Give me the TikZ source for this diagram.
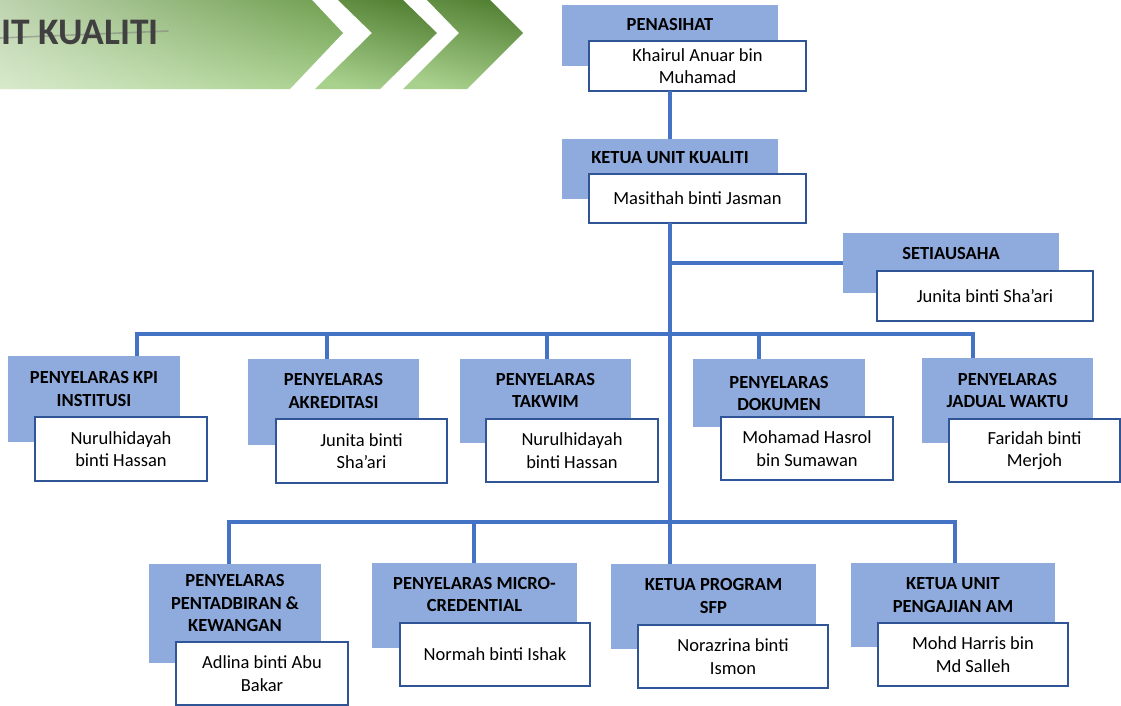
\documentclass[tikz,border=0pt]{standalone}
\usepackage{fontspec}
\setmainfont{Carlito}
\usetikzlibrary{fadings}
\definecolor{headblue}{HTML}{8FAADC}
\definecolor{edgeblue}{HTML}{2F5597}
\definecolor{linkblue}{HTML}{4472C4}
\definecolor{leafdark}{HTML}{548235}
\definecolor{leafmid}{HTML}{6E9E4E}
\definecolor{leaflight}{HTML}{A9D18E}
\definecolor{titlegray}{HTML}{404040}
\tikzfading[name=paleleft, left color=transparent!45, right color=transparent!100]

\begin{document}
\begin{tikzpicture}[x=1pt,y=-1pt,
  head/.style={rectangle, fill=headblue, inner sep=0pt, outer sep=0pt},
  headtext/.style={font=\fontsize{18.5}{22.5}\selectfont\bfseries, align=center, inner sep=0pt, text=black},
  namebox/.style={rectangle, fill=white, draw=edgeblue, line width=2.6pt, inner sep=0pt, outer sep=0pt,
    align=center, font=\fontsize{18.5}{22.5}\selectfont},
  link/.style={draw=linkblue, line width=4pt, line join=miter},
  chevron/.style={top color=leafdark, bottom color=leaflight, shading angle=-15},
]
\useasboundingbox (0,0) rectangle (1121,705);

% ---- title banner with chevrons ----
\shade[top color=leafmid, bottom color=leaflight]
  (0,0) -- (312,0) -- (343,33) -- (290,89) -- (0,89) -- cycle;
\fill[white, path fading=paleleft]
  (0,0) -- (312,0) -- (343,33) -- (290,89) -- (0,89) -- cycle;
\shade[chevron]
  (338,0) -- (372,33) -- (315,89) -- (380,89) -- (437,33) -- (403,0) -- cycle;
\shade[chevron]
  (427,0) -- (459,33) -- (403,89) -- (467,89) -- (523,33) -- (490,0) -- cycle;
\draw[gray, line width=1.6pt, opacity=0.55, line cap=round] (0,38) -- (168,31);
\node[anchor=base west, inner sep=0pt, font=\fontsize{37.5}{41}\selectfont\bfseries, text=titlegray]
  (title) at (1,44) {IT KUALITI};

% ---- top of the hierarchy ----
\node[head, minimum width=216, minimum height=61] (hPen) at (670,35.5) {};
\node[namebox, minimum width=217, minimum height=50] (nPen) at (697.5,66) {Khairul Anuar bin\\Muhamad};
\node[headtext] (tPen) at (670,24) {PENASIHAT};

\node[head, minimum width=216, minimum height=60] (hKuk) at (670,169) {};
\node[namebox, minimum width=217, minimum height=49] (nKuk) at (697.5,198.5) {Masithah binti Jasman};
\node[headtext] (tKuk) at (670,158) {KETUA UNIT KUALITI};

\node[head, minimum width=216, minimum height=60] (hSet) at (951,263) {};
\node[namebox, minimum width=216, minimum height=50] (nSet) at (985,296) {Junita binti Sha’ari};
\node[headtext] (tSet) at (951,253) {SETIAUSAHA};

% ---- first row of coordinators ----
\node[head, minimum width=172, minimum height=86] (hKpi) at (94,399) {};
\node[namebox, minimum width=172, minimum height=64] (nKpi) at (121,449) {Nurulhidayah\\binti Hassan};
\node[headtext] (tKpi) at (94,389) {PENYELARAS KPI\\INSTITUSI};

\node[head, minimum width=171, minimum height=86] (hAkr) at (333.5,402) {};
\node[namebox, minimum width=171, minimum height=64] (nAkr) at (361.5,451) {Junita binti\\Sha’ari};
\node[headtext] (tAkr) at (333.5,391) {PENYELARAS\\AKREDITASI};

\node[head, minimum width=171, minimum height=84] (hTak) at (545.5,401) {};
\node[namebox, minimum width=172, minimum height=63] (nTak) at (572,450.5) {Nurulhidayah\\binti Hassan};
\node[headtext] (tTak) at (545.5,390.5) {PENYELARAS\\TAKWIM};

\node[head, minimum width=172, minimum height=68] (hDok) at (779,393) {};
\node[namebox, minimum width=172, minimum height=63] (nDok) at (807,448.5) {Mohamad Hasrol\\bin Sumawan};
\node[headtext] (tDok) at (779,393.5) {PENYELARAS\\DOKUMEN};

\node[head, minimum width=171, minimum height=85] (hJad) at (1007.5,400.5) {};
\node[namebox, minimum width=171, minimum height=63] (nJad) at (1034.5,450.5) {Faridah binti\\Merjoh};
\node[headtext] (tJad) at (1007.5,390.5) {PENYELARAS\\JADUAL WAKTU};

% ---- second row ----
\node[head, minimum width=172, minimum height=99] (hPkw) at (235,613.5) {};
\node[namebox, minimum width=172, minimum height=63] (nPkw) at (262,673.5) {Adlina binti Abu\\Bakar};
\node[headtext] (tPkw) at (235,603) {PENYELARAS\\PENTADBIRAN \&\\KEWANGAN};

\node[head, minimum width=205, minimum height=85] (hMc) at (474.5,605.5) {};
\node[namebox, minimum width=190, minimum height=63] (nMc) at (495,654.5) {Normah binti Ishak};
\node[headtext] (tMc) at (474.5,594.5) {PENYELARAS MICRO-\\CREDENTIAL};

\node[head, minimum width=205, minimum height=85] (hSfp) at (713.5,606.5) {};
\node[namebox, minimum width=190, minimum height=63] (nSfp) at (733,656.5) {Norazrina binti\\Ismon};
\node[headtext] (tSfp) at (713.5,596) {KETUA PROGRAM\\SFP};

\node[head, minimum width=204, minimum height=84] (hPam) at (953,605) {};
\node[namebox, minimum width=190, minimum height=63] (nPam) at (973,654.5) {Mohd Harris bin\\Md Salleh};
\node[headtext] (tPam) at (953,595) {KETUA UNIT\\PENGAJIAN AM};

% ---- connectors ----
\coordinate (bus1w) at (137,334);
\coordinate (bus1e) at (973,334);
\coordinate (dAkr) at (327,334);
\coordinate (dTak) at (547,334);
\coordinate (dDok) at (759,334);
\coordinate (bus2w) at (229,522);
\coordinate (bus2e) at (955,522);
\coordinate (dMc) at (474,522);

\draw[link] (nPen.south -| hPen) -- (hKuk.north);
\draw[link] (nKuk.south -| hKuk) -- (hSfp.north -| hKuk);
\draw[link] (hSet.west -| hKuk) -- (hSet.west);

\draw[link] (hKpi.north -| bus1w) -- (bus1w) -- (bus1e) -- (hJad.north -| bus1e);
\draw[link] (dAkr) -- (hAkr.north -| dAkr);
\draw[link] (dTak) -- (hTak.north -| dTak);
\draw[link] (dDok) -- (hDok.north -| dDok);

\draw[link] (hPkw.north -| bus2w) -- (bus2w) -- (bus2e) -- (hPam.north -| bus2e);
\draw[link] (dMc) -- (hMc.north -| dMc);
\end{tikzpicture}
\end{document}
